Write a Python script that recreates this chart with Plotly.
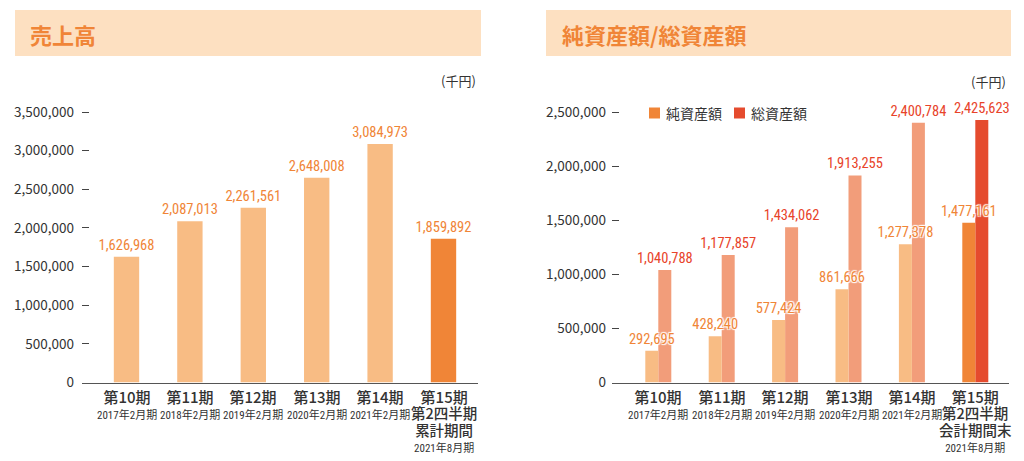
import plotly.graph_objects as go

# ---------------- data ----------------
periods = ["第10期", "第11期", "第12期", "第13期", "第14期", "第15期"]
period_dates = ["2017年2月期", "2018年2月期", "2019年2月期", "2020年2月期", "2021年2月期", "2021年8月期"]
q2_label = "第2四半期"
sales_last_note = "累計期間"
assets_last_note = "会計期間末"

sales = [1626968, 2087013, 2261561, 2648008, 3084973, 1859892]
net_assets = [292695, 428240, 577424, 861666, 1277378, 1477161]
total_assets = [1040788, 1177857, 1434062, 1913255, 2400784, 2425623]

series_names = ["純資産額", "総資産額"]
titles = ["売上高", "純資産額/総資産額"]
unit_label = "(千円)"

sales_ticks = [0, 500000, 1000000, 1500000, 2000000, 2500000, 3000000, 3500000]
assets_ticks = [0, 500000, 1000000, 1500000, 2000000, 2500000]

# ---------------- styling ----------------
W, H = 1024, 461
H_EFF = 452  # measured drawn height of the figure in the viewer
LIGHT = "#F8BC84"
SALMON = "#F29D7A"
DARK_OR = "#F08537"
RED = "#E54B2E"
LBL_OR = "#F08537"
LBL_RED = "#E8432A"
BAND = "#FDE0C1"
TXT = "#333333"
NUM_FONT = "Roboto Condensed, Liberation Sans Narrow, Roboto, sans-serif"
CJK = "Noto Sans CJK JP"
SUB_FONT = "Roboto Condensed, Noto Sans CJK JP, sans-serif"


def px_x(p):
    return p / W


def px_y(p):
    return 1 - p / H_EFF


n = len(periods)
idx = list(range(n))

# plot geometry (pixels)
y0_px, ytop_tick_px, ydom_top_px = 382.5, 112.0, 96.0
scale = (y0_px - ydom_top_px) / (y0_px - ytop_tick_px)
sales_range = [0, sales_ticks[-1] * scale]
assets_range = [0, assets_ticks[-1] * scale]

spacing = 63.4
L_x0, L_x1, L_c0 = 82, 478, 126.5
R_x0, R_x1, R_c0 = 612, 1009, 658.3

fig = go.Figure()

halo = "1px 1px 1px white, -1px -1px 1px white, 1px -1px 1px white, -1px 1px 1px white"

# Sales bars
fig.add_trace(go.Bar(
    x=idx, y=sales, xaxis="x", yaxis="y",
    width=0.40,
    marker=dict(color=[LIGHT] * (n - 1) + [DARK_OR], line=dict(width=0)),
    text=[f"{v:,}" for v in sales], textposition="outside",
    textfont=dict(family=NUM_FONT, size=14.5, color=LBL_OR),
    constraintext="none", cliponaxis=False, showlegend=False,
    hoverinfo="skip",
))

# Total assets (drawn first so net-asset labels sit on top)
fig.add_trace(go.Bar(
    x=idx, y=total_assets, xaxis="x2", yaxis="y2",
    width=0.205, offset=0,
    marker=dict(color=[SALMON] * (n - 1) + [RED], line=dict(width=0)),
    text=[f"{v:,}" for v in total_assets], textposition="outside",
    textfont=dict(family=NUM_FONT, size=14.5, color=LBL_RED, shadow=halo),
    constraintext="none", cliponaxis=False, showlegend=False,
    name=series_names[1], hoverinfo="skip",
))
fig.add_trace(go.Bar(
    x=idx, y=net_assets, xaxis="x2", yaxis="y2",
    width=0.205, offset=-0.205,
    marker=dict(color=[LIGHT] * (n - 1) + [DARK_OR], line=dict(width=0)),
    text=[f"{v:,}" for v in net_assets], textposition="outside",
    textfont=dict(family=NUM_FONT, size=14.5, color=LBL_OR, shadow=halo),
    constraintext="none", cliponaxis=False, showlegend=False,
    name=series_names[0], hoverinfo="skip",
))

axis_common_x = dict(showgrid=False, zeroline=False, showticklabels=False, ticks="",
                     showline=True, linecolor="#555555", linewidth=1, fixedrange=True)
axis_common_y = dict(showgrid=False, zeroline=False, showline=False, ticks="inside",
                     ticklen=7, tickwidth=1, tickcolor="#444444", tickformat=",d",
                     tickfont=dict(family=CJK, size=13.5, color=TXT), fixedrange=True)

fig.update_layout(
    width=W, height=H,
    margin=dict(l=0, r=0, t=0, b=0),
    paper_bgcolor="white", plot_bgcolor="rgba(0,0,0,0)",
    font=dict(family=CJK, color=TXT),
    barmode="overlay",
    showlegend=False,
    xaxis=dict(domain=[px_x(L_x0), px_x(L_x1)],
               range=[(L_x0 - L_c0) / spacing, (L_x1 - L_c0) / spacing],
               anchor="y", **axis_common_x),
    yaxis=dict(domain=[px_y(y0_px), px_y(ydom_top_px)], range=sales_range,
               tickvals=sales_ticks, ticklabelstandoff=7, anchor="x", **axis_common_y),
    xaxis2=dict(domain=[px_x(R_x0), px_x(R_x1)],
                range=[(R_x0 - R_c0) / spacing, (R_x1 - R_c0) / spacing],
                anchor="y2", **axis_common_x),
    yaxis2=dict(domain=[px_y(y0_px), px_y(ydom_top_px)], range=assets_range,
                tickvals=assets_ticks, ticklabelstandoff=5, anchor="x2", **axis_common_y),
)

shapes = []
annotations = []

# title bands
for (x0, x1), title, tx in [((15, 481), titles[0], 28), ((546, 1011), titles[1], 560)]:
    shapes.append(dict(type="rect", xref="paper", yref="paper",
                       x0=px_x(x0), x1=px_x(x1), y0=px_y(56), y1=px_y(10),
                       fillcolor=BAND, line=dict(width=0), layer="below"))
    annotations.append(dict(xref="paper", yref="paper", x=px_x(tx), y=px_y(34),
                            xanchor="left", yanchor="middle", showarrow=False,
                            text=f"<b>{title}</b>",
                            font=dict(family=CJK, size=22, color=DARK_OR)))

# unit labels
for xr, yc in [(478, 80), (1008, 82)]:
    annotations.append(dict(xref="paper", yref="paper", x=px_x(xr), y=px_y(yc),
                            xanchor="right", yanchor="middle", showarrow=False,
                            text=unit_label, font=dict(family=CJK, size=13, color=TXT)))

# custom legend
for (sx, tx), name, col in [((649, 664), series_names[0], DARK_OR),
                            ((734, 749), series_names[1], RED)]:
    shapes.append(dict(type="rect", xref="paper", yref="paper",
                       x0=px_x(sx), x1=px_x(sx + 11), y0=px_y(118.5), y1=px_y(107.5),
                       fillcolor=col, line=dict(width=0)))
    annotations.append(dict(xref="paper", yref="paper", x=px_x(tx), y=px_y(113),
                            xanchor="left", yanchor="middle", showarrow=False,
                            text=name, font=dict(family=CJK, size=14, color=TXT)))


def big(t):
    return f"<span style='font-size:15px;font-weight:500'>{t}</span>"


def mid(t):
    return f"<span style='font-size:14.5px;font-weight:500'>{t}</span>"


def small(t):
    return f"<span style='font-size:11px;font-family:{SUB_FONT}'>{t}</span>"


# category labels (one multi-line label per category)
for xref, last_note in [("x", sales_last_note), ("x2", assets_last_note)]:
    for i in idx:
        if i < n - 1:
            txt = big(periods[i]) + "<br>" + small(period_dates[i])
        else:
            txt = (big(periods[i]) + "<br>" + mid(q2_label) + "<br>" + mid(last_note)
                   + "<br>" + small(period_dates[i]))
        annotations.append(dict(xref=xref, yref="paper", x=i, y=px_y(384),
                                xanchor="center", yanchor="top", showarrow=False,
                                align="center", text=txt,
                                font=dict(family=CJK, size=12.5, color=TXT)))

fig.update_layout(shapes=shapes, annotations=annotations)

fig.write_html("out.html", config={"displayModeBar": False},
               post_script="document.body.style.margin='0';")
